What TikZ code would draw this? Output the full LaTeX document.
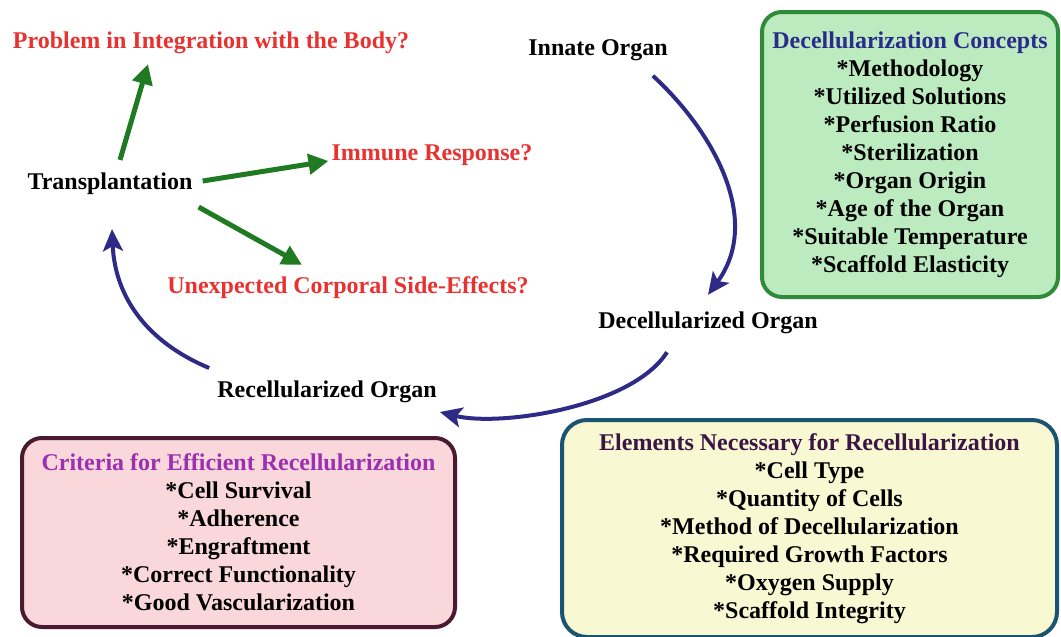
\documentclass[tikz,border=0pt]{standalone}
\usepackage{fontspec}
\setmainfont{Liberation Serif}
\usetikzlibrary{arrows.meta,positioning}
\definecolor{askred}{HTML}{E8322F}
\definecolor{arrowgreen}{HTML}{1F7A22}
\definecolor{cyclenavy}{HTML}{2E2A86}
\definecolor{conceptfill}{HTML}{BCEBC0}
\definecolor{conceptedge}{HTML}{2F8A3A}
\definecolor{concepttitle}{HTML}{2B2B8C}
\definecolor{critfill}{HTML}{F9D7DB}
\definecolor{critedge}{HTML}{4B1A30}
\definecolor{crittitle}{HTML}{9B30B0}
\definecolor{elemfill}{HTML}{F8F8D2}
\definecolor{elemedge}{HTML}{1B5470}
\definecolor{elemtitle}{HTML}{3B1544}
\tikzset{
  stagetext/.style={font=\bfseries\fontsize{24}{28}\selectfont,inner sep=0pt},
  asktext/.style={stagetext,text=askred},
  listbox/.style={draw,line width=4pt,rounded corners=20pt,align=center,
    font=\bfseries\fontsize{24}{28}\selectfont,inner sep=4pt},
  greenarrow/.style={draw=arrowgreen,line width=5pt,-{Triangle[length=20pt,width=20pt]}},
  navyarrow/.style={draw=cyclenavy,line width=4pt,-{Stealth[length=22pt,width=20pt,inset=5pt]}}
}
\begin{document}
\begin{tikzpicture}[x=1pt,y=-1pt]
  \useasboundingbox (0,0) rectangle (1061,637);
  \node[asktext] (problem) at (211,43) {Problem in Integration with the Body?};
  \node[stagetext] (innate) at (598,50) {Innate Organ};
  \node[stagetext] (transp) at (110,184) {Transplantation};
  \node[asktext] (immune) at (432,155) {Immune Response?};
  \node[asktext] (sidefx) at (348,288) {Unexpected Corporal Side-Effects?};
  \node[stagetext] (decell) at (708,323) {Decellularized Organ};
  \node[stagetext] (recell) at (327,392) {Recellularized Organ};
  \node[listbox,fill=conceptfill,draw=conceptedge,minimum width=296pt,minimum height=285pt]
    (concepts) at (910,154.5) {\textcolor{concepttitle}{Decellularization Concepts}\\
      {*}Methodology\\{*}Utilized Solutions\\{*}Perfusion Ratio\\{*}Sterilization\\
      {*}Organ Origin\\{*}Age of the Organ\\{*}Suitable Temperature\\{*}Scaffold Elasticity};
  \node[listbox,fill=critfill,draw=critedge,minimum width=433pt,minimum height=189pt]
    (criteria) at (238.5,532.5) {\textcolor{crittitle}{Criteria for Efficient Recellularization}\\
      {*}Cell Survival\\{*}Adherence\\{*}Engraftment\\{*}Correct Functionality\\
      {*}Good Vascularization};
  \node[listbox,fill=elemfill,draw=elemedge,rounded corners=25pt,minimum width=495pt,minimum height=217pt]
    (elements) at (809.5,528.5) {\textcolor{elemtitle}{Elements Necessary for Recellularization}\\
      {*}Cell Type\\{*}Quantity of Cells\\{*}Method of Decellularization\\
      {*}Required Growth Factors\\{*}Oxygen Supply\\{*}Scaffold Integrity};
  % transplantation outcomes
  \draw[greenarrow] ([shift={(10,-13)}]transp.north) -- ([shift={(-63,10)}]problem.south);
  \draw[greenarrow] ([shift={(10,-3)}]transp.east) -- ([shift={(-3,6)}]immune.west);
  \draw[greenarrow] ([shift={(6,12)}]transp.south east) -- ([shift={(-46,-12)}]sidefx.north);
  % organ cycle
  \draw[navyarrow] ([shift={(-15,15)}]innate.south east)
    .. controls +(60,55) and +(55,-75) .. ([shift={(0,-17)}]decell.north);
  \draw[navyarrow] ([shift={(-41,18)}]decell.south)
    .. controls +(-35,55) and +(60,15) .. ([shift={(3,20)}]recell.east);
  \draw[navyarrow] ([shift={(-8,-24)}]recell.west)
    .. controls +(-60,-25) and +(3,70) .. ([shift={(2,34)}]transp.south);
\end{tikzpicture}
\end{document}
